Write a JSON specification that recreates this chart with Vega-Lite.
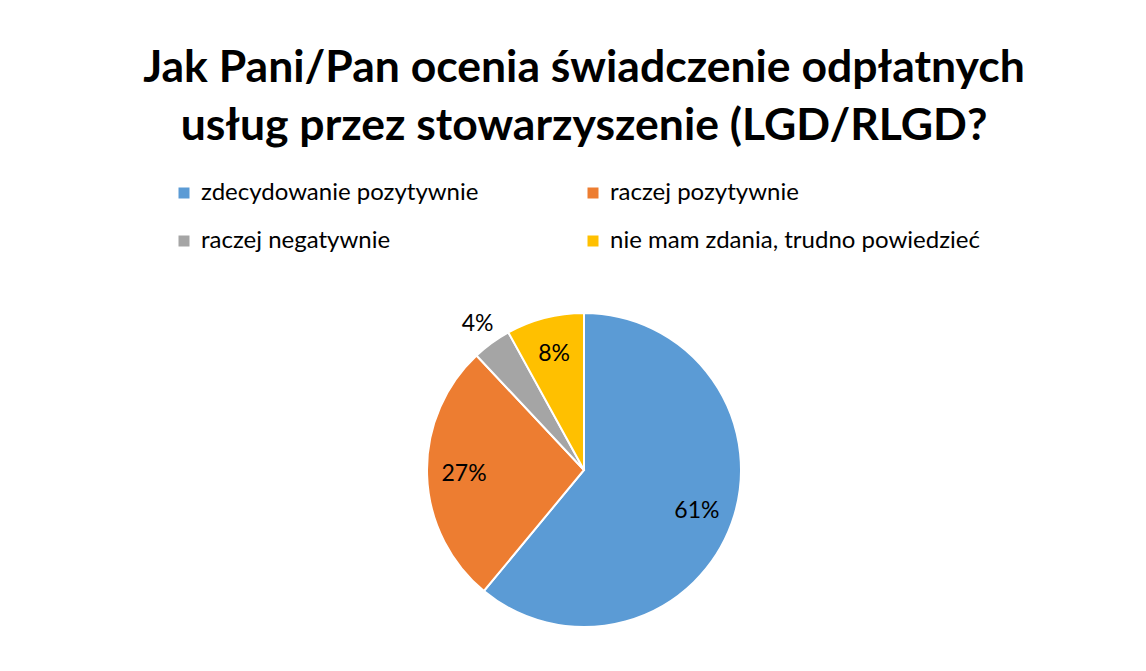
{
  "$schema": "https://vega.github.io/schema/vega-lite/v6.json",
  "width": 1124,
  "height": 402,
  "autosize": {"type": "none"},
  "padding": {"left": 22, "top": 269, "right": 0, "bottom": 0},
  "background": "white",
  "config": {"view": {"stroke": null}, "font": "Lato"},
  "title": {
    "text": ["Jak Pani/Pan ocenia świadczenie odpłatnych", "usług przez stowarzyszenie (LGD/RLGD?"],
    "font": "Lato",
    "fontSize": 44.5,
    "fontWeight": "bold",
    "color": "#000000",
    "anchor": "middle",
    "lineHeight": 58,
    "offset": 32
  },
  "data": {
    "values": [
      {"kategoria": "zdecydowanie pozytywnie", "udzial": 0.61, "kolejnosc": 1},
      {"kategoria": "raczej pozytywnie", "udzial": 0.27, "kolejnosc": 2},
      {"kategoria": "raczej negatywnie", "udzial": 0.04, "kolejnosc": 3},
      {"kategoria": "nie mam zdania, trudno powiedzieć", "udzial": 0.08, "kolejnosc": 4}
    ]
  },
  "encoding": {
    "theta": {"field": "udzial", "type": "quantitative", "stack": true},
    "order": {"field": "kolejnosc", "type": "quantitative"}
  },
  "layer": [
    {
      "mark": {"type": "arc", "outerRadius": 157, "stroke": "white", "strokeWidth": 2},
      "encoding": {
        "color": {
          "field": "kategoria",
          "type": "nominal",
          "sort": ["zdecydowanie pozytywnie", "raczej pozytywnie", "raczej negatywnie", "nie mam zdania, trudno powiedzieć"],
          "scale": {
            "domain": ["zdecydowanie pozytywnie", "raczej pozytywnie", "raczej negatywnie", "nie mam zdania, trudno powiedzieć"],
            "range": ["#5B9BD5", "#ED7D31", "#A5A5A5", "#FFC000"]
          },
          "legend": {
            "orient": "none",
            "legendX": 150,
            "legendY": -88,
            "direction": "horizontal",
            "columns": 2,
            "title": null,
            "symbolType": "square",
            "symbolSize": 121,
            "symbolStrokeWidth": 0,
            "labelFont": "Lato",
            "labelFontSize": 24,
            "labelColor": "#000000",
            "labelLimit": 500,
            "labelOffset": 5,
            "columnPadding": 102,
            "rowPadding": 24
          }
        }
      }
    },
    {
      "mark": {"type": "text", "radius": 120, "font": "Lato", "fontSize": 23, "color": "#000000"},
      "encoding": {
        "text": {"field": "udzial", "type": "quantitative", "format": ".0%"},
        "opacity": {"condition": {"test": "datum.udzial < 0.05", "value": 0}, "value": 1}
      }
    },
    {
      "mark": {"type": "text", "radius": 181, "font": "Lato", "fontSize": 23, "color": "#000000"},
      "encoding": {
        "text": {"field": "udzial", "type": "quantitative", "format": ".0%"},
        "opacity": {"condition": {"test": "datum.udzial < 0.05", "value": 1}, "value": 0}
      }
    }
  ]
}
